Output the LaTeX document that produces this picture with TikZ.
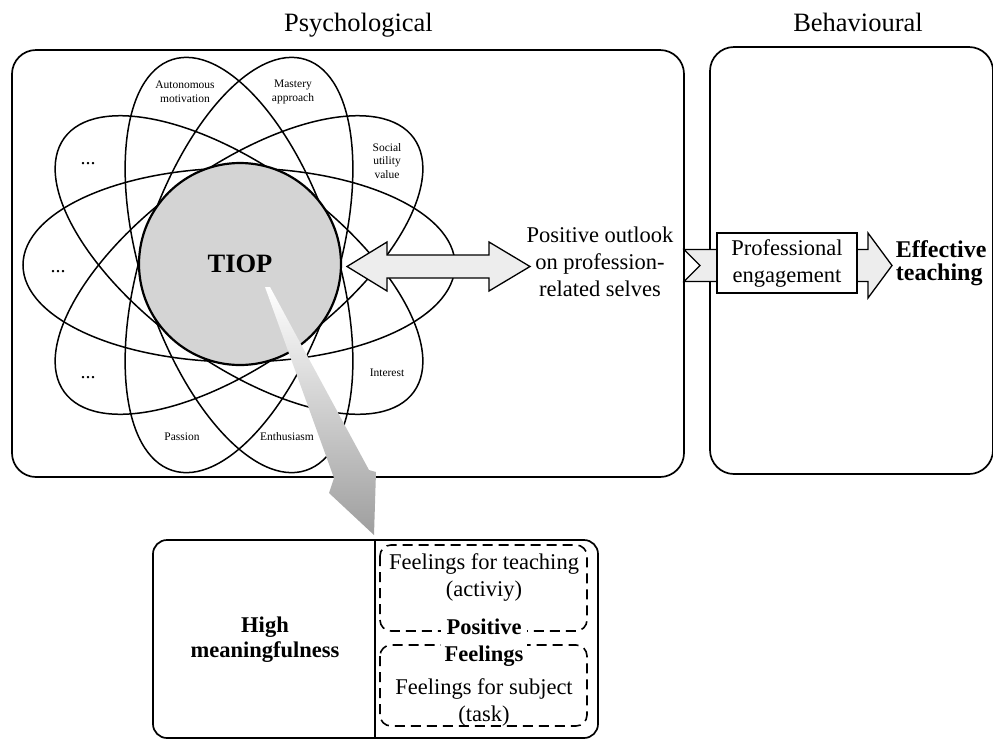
\documentclass[tikz,border=0pt]{standalone}
\usepackage{fontspec}
\setmainfont{Liberation Serif}
\usetikzlibrary{positioning}

\begin{document}
\begin{tikzpicture}[x=1pt,y=-1pt,
    panel/.style={draw,line width=1.7pt,rounded corners=24pt},
    petal/.style={draw,line width=1.5pt},
    lbl/.style={inner sep=0pt,align=center,font=\fontsize{11.5}{13.5}\selectfont},
    dots/.style={inner sep=0pt,font=\fontsize{20}{20}\selectfont},
    txt/.style={inner sep=0pt,align=center,font=\fontsize{22.5}{27}\selectfont},
    btxt/.style={inner sep=0pt,align=center,font=\bfseries\fontsize{22.5}{25}\selectfont},
    ttl/.style={inner sep=0pt,anchor=base,font=\fontsize{26.5}{30}\selectfont},
    blockarrow/.style={draw,line width=1.3pt,fill=black!7,line join=miter},
    dashbox/.style={draw,line width=1.6pt,dash pattern=on 10pt off 6pt,rounded corners=11pt}]

  \useasboundingbox (0,0) rectangle (993,740);

  \node[ttl] (psy) at (358.5,31) {Psychological};
  \node[ttl] (beh) at (858,31) {Behavioural};

  \draw[panel] (12,50) rectangle (684,477);
  \draw[panel] (710,47) rectangle (993,474);

  \foreach \a in {0,36,72,108,144}
    \draw[petal,rotate around={\a:(239,265)}] (239,265) ellipse [x radius=216, y radius=97];

  \node[circle,draw,line width=2.2pt,fill=black!17,minimum size=202pt,inner sep=0pt,
        font=\bfseries\fontsize{26.5}{30}\selectfont] (tiop) at (240,264) {TIOP};

  \node[lbl] (auto) at (185,92) {Autonomous\\motivation};
  \node[lbl] (mast) at (293,92) {Mastery\\approach};
  \node[lbl] (soc) at (387,161) {Social\\utility\\value};
  \node[lbl] (int) at (387,373) {Interest};
  \node[lbl] (enth) at (287,437) {Enthusiasm};
  \node[lbl] (pass) at (182,437) {Passion};
  \node[dots] (dotsa) at (88,164) {...};
  \node[dots] (dotsb) at (58,272) {...};
  \node[dots] (dotsc) at (88,378) {...};

  \draw[blockarrow] (347,266.5) -- (387,242) -- (387,255) -- (489,255) -- (489,242)
    -- (530,266.5) -- (489,291) -- (489,278) -- (387,278) -- (387,291) -- cycle;
  \node[txt] (outl) at (600,262) {Positive outlook\\on profession-\\related selves};

  \draw[blockarrow] (684,249.5) -- (700,265.5) -- (684,281.5) -- (868,281.5) -- (868,298)
    -- (892,265.5) -- (868,233) -- (868,249.5) -- cycle;
  \node[draw,fill=white,line width=1.3pt,minimum width=140pt,minimum height=60pt,
        txt,inner sep=0pt] (eng) at (787,263) {Professional\\engagement};
  \node[btxt,align=left,anchor=west,font=\bfseries\fontsize{24}{23.5}\selectfont]
        (eff) [right=38pt of eng] {Effective\\teaching};

  \shade[top color=white,bottom color=black!38]
    (265,287) -- (334,478) -- (329,493) -- (374,535) -- (376,472) -- (369,470) -- (270,287) -- cycle;

  \draw[panel,rounded corners=14pt] (153,540) rectangle (598,738);
  \draw[line width=1.7pt] (375,540) -- (375,738);
  \node[btxt] (mean) at (265,640) {High\\meaningfulness};

  \draw[dashbox] (380,545) rectangle (587,631);
  \draw[dashbox] (380,645) rectangle (587,726);
  \node[txt] (teach) at (484,577) {Feelings for teaching\\(activiy)};
  \node[txt] (subj) at (484,702) {Feelings for subject\\(task)};
  \node[btxt,fill=white,inner xsep=4pt,inner ysep=1pt,font=\bfseries\fontsize{22.5}{27}\selectfont]
        (posf) at (484,643) {Positive\\Feelings};

\end{tikzpicture}
\end{document}
